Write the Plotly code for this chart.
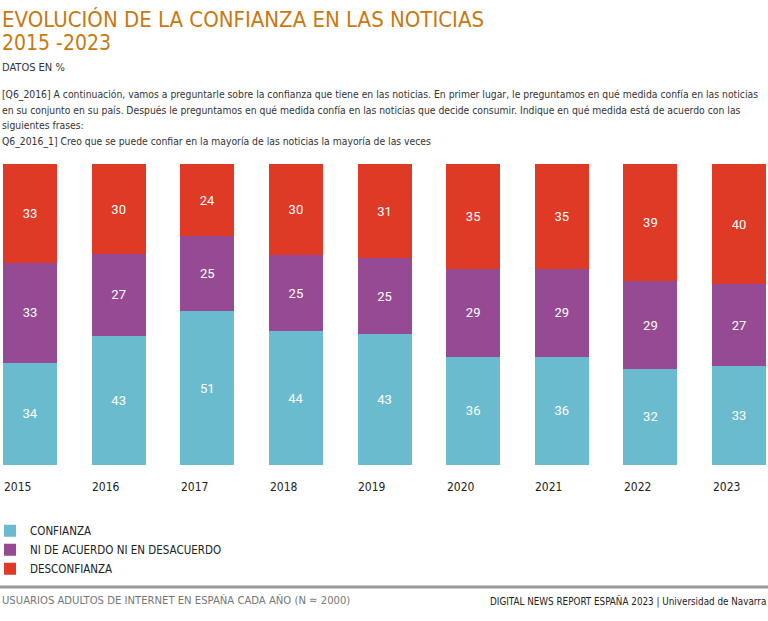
import plotly.graph_objects as go

years = ["2015", "2016", "2017", "2018", "2019", "2020", "2021", "2022", "2023"]
confianza = [34, 43, 51, 44, 43, 36, 36, 32, 33]
ni_ni = [33, 27, 25, 25, 25, 29, 29, 29, 27]
desconfianza = [33, 30, 24, 30, 31, 35, 35, 39, 40]

series_names = ["CONFIANZA", "NI DE ACUERDO NI EN DESACUERDO", "DESCONFIANZA"]
series_values = [confianza, ni_ni, desconfianza]
series_colors = ["#6BBBCE", "#964A93", "#DE3A25"]

COND = "DejaVu Sans Condensed, Roboto, sans-serif"
ORANGE = "#C8790F"

fig = go.Figure()
for name, vals, col in zip(series_names, series_values, series_colors):
    fig.add_trace(go.Bar(
        x=list(range(len(years))), y=vals, name=name,
        marker=dict(color=col, line=dict(width=0)),
        width=0.61,
        text=[str(v) for v in vals], texttemplate="%{text}",
        textposition="inside", insidetextanchor="middle",
        textfont=dict(color="white", size=13, family="Roboto"),
        textangle=0,
    ))

fig.update_layout(
    barmode="stack", barnorm="percent",
    width=768, height=621,
    margin=dict(l=0, r=0, t=164, b=156, autoexpand=False),
    plot_bgcolor="white", paper_bgcolor="white",
    showlegend=True,
    legend=dict(
        x=-0.013, y=-0.17, xanchor="left", yanchor="top",
        traceorder="normal", orientation="v",
        font=dict(family=COND, size=11.5, color="#222"),
        itemwidth=30, tracegroupgap=0,
        bgcolor="rgba(0,0,0,0)",
    ),
    xaxis=dict(range=[-0.339, 8.327], showticklabels=False, showgrid=False,
               zeroline=False, showline=False, fixedrange=True),
    yaxis=dict(range=[0, 100], showticklabels=False, showgrid=False,
               zeroline=False, showline=False, fixedrange=True),
)

# year labels, left aligned with each bar
for i, yr in enumerate(years):
    fig.add_annotation(x=i - 0.32, y=-0.073, xref="x", yref="paper", text=yr,
                       showarrow=False, xanchor="left", yanchor="middle",
                       font=dict(family=COND, size=12, color="#222"))

def ptext(txt, x, ypx, size, color, family=COND, xanchor="left"):
    fig.add_annotation(x=x, y=1 + (164 - ypx) / 301.0, xref="paper", yref="paper",
                       text=txt, showarrow=False, xanchor=xanchor, yanchor="middle",
                       align="left", font=dict(family=family, size=size, color=color))

ptext("EVOLUCIÓN DE LA CONFIANZA EN LAS NOTICIAS", 0.0, 19, 22, ORANGE)
ptext("2015 -2023", 0.0, 43, 21, ORANGE)
ptext("DATOS EN %", 0.0, 67, 11, "#333")
ptext("[Q6_2016] A continuación, vamos a preguntarle sobre la confianza que tiene en las noticias. En primer lugar, le preguntamos en qué medida confía en las noticias", 0.0, 94, 10.3, "#333")
ptext("en su conjunto en su país. Después le preguntamos en qué medida confía en las noticias que decide consumir. Indique en qué medida está de acuerdo con las", 0.0, 110, 10.3, "#333")
ptext("siguientes frases:", 0.0, 125, 10.3, "#333")
ptext("Q6_2016_1] Creo que se puede confiar en la mayoría de las noticias la mayoría de las veces", 0.0, 141, 10.3, "#333")
ptext("USUARIOS ADULTOS DE INTERNET EN ESPAÑA CADA AÑO (N ≈ 2000)", 0.0, 600, 11.2, "#777")
ptext("DIGITAL NEWS REPORT ESPAÑA 2023 | Universidad de Navarra", 1.0, 601, 9.8, "#222", xanchor="right")

fig.add_shape(type="line", xref="paper", yref="paper", x0=0, x1=1,
              y0=1 + (164 - 587) / 301.0, y1=1 + (164 - 587) / 301.0,
              line=dict(color="#999", width=3))

fig.write_html("out.html", config={"displayModeBar": False},
               post_script="document.body.style.margin='0';")
